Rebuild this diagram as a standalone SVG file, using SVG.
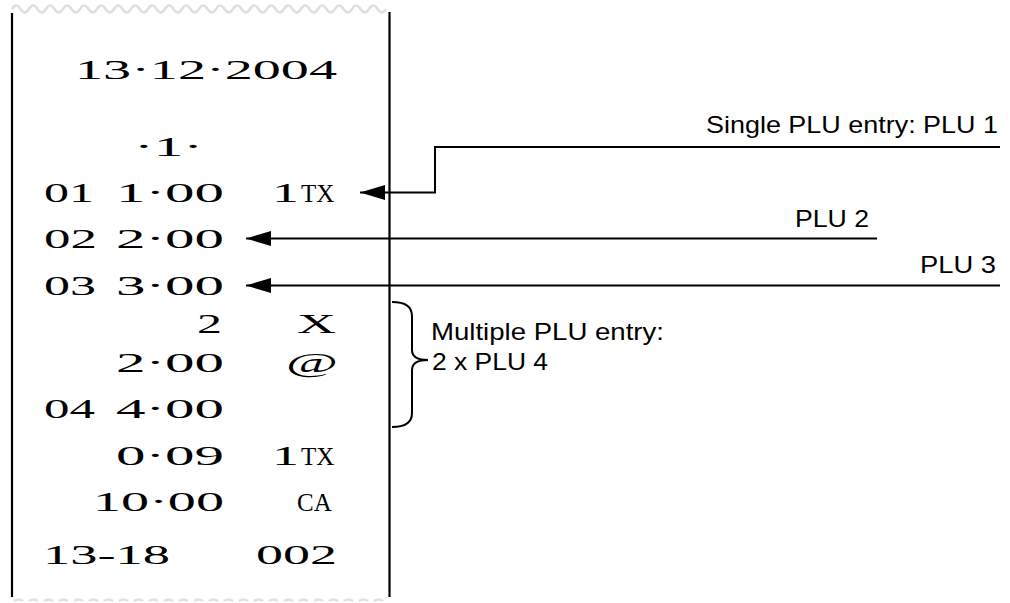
<svg xmlns="http://www.w3.org/2000/svg" width="1010" height="603" viewBox="0 0 1010 603">
<defs>
<style>
.r{font-family:"Liberation Serif","Times New Roman",serif;font-size:26.5px;fill:#000}
.t{font-size:25px}
.l{font-family:"Liberation Sans",Arial,sans-serif;font-size:24px;fill:#000}
.edge{fill:none;stroke:#000;stroke-width:2.2}
.conn{fill:none;stroke:#000;stroke-width:2}
.paper{fill:none;stroke:#e0e0e0;stroke-width:2.5}
</style>
<marker id="ah" viewBox="0 0 25 15" markerWidth="25" markerHeight="15" refX="0" refY="7.5" orient="auto" markerUnits="userSpaceOnUse">
<path d="M25,0 L0,7.5 L25,15 Z" fill="#000"/>
</marker>
</defs>
<rect width="1010" height="603" fill="#fff"/>
<g id="receipt">
<path class="paper" d="M12,9 q4.25,-7 8.5,0 t8.5,0 t8.5,0 t8.5,0 t8.5,0 t8.5,0 t8.5,0 t8.5,0 t8.5,0 t8.5,0 t8.5,0 t8.5,0 t8.5,0 t8.5,0 t8.5,0 t8.5,0 t8.5,0 t8.5,0 t8.5,0 t8.5,0 t8.5,0 t8.5,0 t8.5,0 t8.5,0 t8.5,0 t8.5,0 t8.5,0 t8.5,0 t8.5,0 t8.5,0 t8.5,0 t8.5,0 t8.5,0 t8.5,0 t8.5,0 t8.5,0 t8.5,0 t8.5,0 t8.5,0 t8.5,0 t8.5,0 t8.5,0 t8.5,0 t8.5,0"/>
<path class="paper" d="M14,601 q4.5,-3 9,0 m6,0 q4.5,-3 9,0 m6,0 q4.5,-3 9,0 m6,0 q4.5,-3 9,0 m6,0 q4.5,-3 9,0 m6,0 q4.5,-3 9,0 m6,0 q4.5,-3 9,0 m6,0 q4.5,-3 9,0 m6,0 q4.5,-3 9,0 m6,0 q4.5,-3 9,0 m6,0 q4.5,-3 9,0 m6,0 q4.5,-3 9,0 m6,0 q4.5,-3 9,0 m6,0 q4.5,-3 9,0 m6,0 q4.5,-3 9,0 m6,0 q4.5,-3 9,0 m6,0 q4.5,-3 9,0 m6,0 q4.5,-3 9,0 m6,0 q4.5,-3 9,0 m6,0 q4.5,-3 9,0 m6,0 q4.5,-3 9,0 m6,0 q4.5,-3 9,0 m6,0 q4.5,-3 9,0 m6,0 q4.5,-3 9,0 m6,0 q4.5,-3 9,0"/>
<line class="edge" x1="12" y1="13" x2="12" y2="597"/>
<line class="edge" x1="389.5" y1="12" x2="389.5" y2="597"/>
<text class="r" x="75" y="79" textLength="262" lengthAdjust="spacingAndGlyphs">13·12·2004</text>
<text class="r" x="134" y="156" textLength="69" lengthAdjust="spacingAndGlyphs">·1·</text>
<text class="r" x="44" y="202" textLength="50" lengthAdjust="spacingAndGlyphs">01</text>
<text class="r" x="116" y="202" textLength="108" lengthAdjust="spacingAndGlyphs">1·00</text>
<text class="r" y="202"><tspan x="272" textLength="27" lengthAdjust="spacingAndGlyphs">1</tspan><tspan class="t" x="301">TX</tspan></text>
<text class="r" x="44" y="248" textLength="53" lengthAdjust="spacingAndGlyphs">02</text>
<text class="r" x="116" y="248" textLength="108" lengthAdjust="spacingAndGlyphs">2·00</text>
<text class="r" x="44" y="295" textLength="52" lengthAdjust="spacingAndGlyphs">03</text>
<text class="r" x="116" y="295" textLength="108" lengthAdjust="spacingAndGlyphs">3·00</text>
<text class="r" x="197" y="333" textLength="25" lengthAdjust="spacingAndGlyphs">2</text>
<text class="r" x="297" y="333" textLength="39" lengthAdjust="spacingAndGlyphs">X</text>
<text class="r" x="116" y="372" textLength="108" lengthAdjust="spacingAndGlyphs">2·00</text>
<text class="r" x="286" y="372" textLength="52" lengthAdjust="spacingAndGlyphs">@</text>
<text class="r" x="44" y="418" textLength="51" lengthAdjust="spacingAndGlyphs">04</text>
<text class="r" x="116" y="418" textLength="108" lengthAdjust="spacingAndGlyphs">4·00</text>
<text class="r" x="116" y="465" textLength="108" lengthAdjust="spacingAndGlyphs">0·09</text>
<text class="r" y="465"><tspan x="272" textLength="27" lengthAdjust="spacingAndGlyphs">1</tspan><tspan class="t" x="301">TX</tspan></text>
<text class="r" x="93" y="511" textLength="131" lengthAdjust="spacingAndGlyphs">10·00</text>
<text class="r t" x="297" y="511">CA</text>
<text class="r" x="43" y="564" textLength="127" lengthAdjust="spacingAndGlyphs">13-18</text>
<text class="r" x="256" y="564" textLength="81" lengthAdjust="spacingAndGlyphs">002</text>
</g>
<g id="label-plu1"><text class="l" x="706" y="133" textLength="292" lengthAdjust="spacingAndGlyphs">Single PLU entry: PLU 1</text></g>
<g id="label-plu2"><text class="l" x="795" y="227" textLength="74" lengthAdjust="spacingAndGlyphs">PLU 2</text></g>
<g id="label-plu3"><text class="l" x="920" y="273" textLength="76" lengthAdjust="spacingAndGlyphs">PLU 3</text></g>
<g id="label-multiple">
<path class="conn" d="M392,302 Q412,302 412,316 L412,350 Q412,360 428,360 Q412,360 412,370 L412,413 Q412,427 392,427"/>
<text class="l" x="431" y="340" textLength="233" lengthAdjust="spacingAndGlyphs">Multiple PLU entry:</text>
<text class="l" x="432" y="370" textLength="116" lengthAdjust="spacingAndGlyphs">2 x PLU 4</text>
</g>
<g id="connectors">
<path class="conn" d="M360,192.5 H435 V147 H1000" marker-start="url(#ah)"/>
<path class="conn" d="M246,238.5 H877" marker-start="url(#ah)"/>
<path class="conn" d="M246,285.5 H1000" marker-start="url(#ah)"/>
</g>
</svg>
